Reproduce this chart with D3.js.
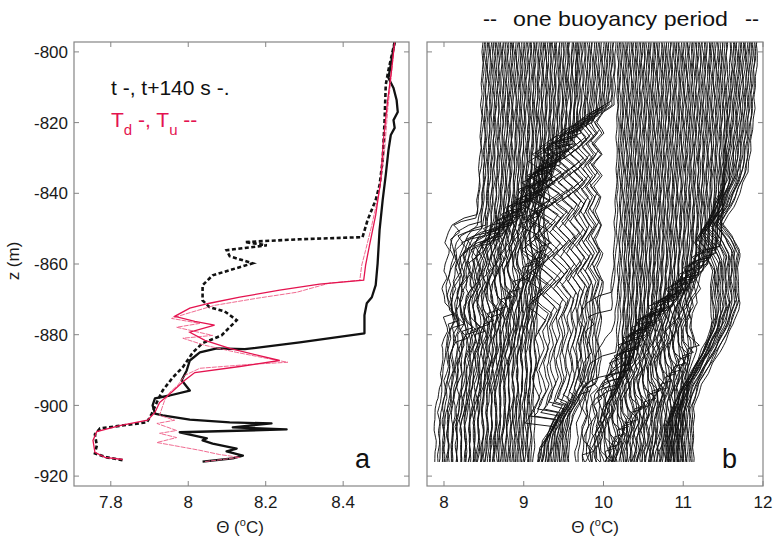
<!DOCTYPE html>
<html><head><meta charset="utf-8">
<script src="https://cdn.jsdelivr.net/npm/d3@7"></script>
<style>body{margin:0;background:#fff}svg{display:block}text{font-family:Arial,"Liberation Sans",sans-serif}</style>
</head><body><svg id="c" width="775" height="543"></svg>
<script>
// ---------- data ----------
const zTicks = [-800,-820,-840,-860,-880,-900,-920];
const xTicksA = [7.8,8,8.2,8.4];
const xTicksB = [8,9,10,11,12];

// panel a profiles (temperature, depth)
const solidT = [8.533,8.525,8.517,8.530,8.538,8.541,8.530,8.533,8.523,8.517,8.510,8.502,8.494,8.489,8.484,8.474,8.461,8.455,8.455,8.288,8.146,8.074,8.030,8.004,7.996,7.983,8.004,7.952,7.914,7.908,7.914,7.934,8.004,8.107,8.215,8.115,8.254,7.978,8.048,8.037,8.063,8.125,8.099,8.141,8.115,8.037];
const solidZ = [-797.2,-802.3,-807.4,-810.2,-813.6,-817.0,-819.3,-821.5,-823.5,-827.8,-834.8,-841.9,-850.4,-859.8,-866.0,-869.4,-871.1,-874.5,-879.6,-882.2,-884.1,-883.9,-885.0,-887.3,-890.1,-892.9,-895.8,-897.2,-898.0,-900.0,-902.3,-902.8,-904.0,-904.8,-905.1,-906.2,-906.8,-907.6,-909.3,-909.9,-910.8,-912.2,-913.0,-914.2,-915.0,-915.9];
const dashT = [8.533,8.517,8.510,8.507,8.502,8.494,8.484,8.463,8.450,8.288,8.146,8.203,8.099,8.107,8.166,8.063,8.037,8.037,8.055,8.094,8.125,8.086,8.037,8.012,7.986,7.960,7.934,7.921,7.906,7.893,7.772,7.759,7.764,7.759,7.790,7.836];
const dashZ = [-797.2,-805.1,-809.3,-819.3,-830.6,-837.7,-841.9,-847.6,-852.4,-853.0,-853.8,-854.7,-856.1,-857.8,-859.8,-863.2,-866.0,-870.3,-872.2,-873.4,-875.9,-880.2,-882.4,-885.0,-889.2,-892.1,-895.8,-898.6,-902.3,-904.8,-906.5,-908.2,-911.3,-913.6,-914.7,-915.6];
const tdT = [8.533,8.525,8.515,8.504,8.497,8.484,8.468,8.458,8.453,8.339,8.236,8.133,8.055,8.004,7.965,8.017,8.068,8.004,8.043,8.107,8.236,8.133,8.017,7.991,7.957,7.926,7.914,7.895,7.823,7.764,7.754,7.759,7.785,7.831];
const tdZ = [-797.2,-805.1,-813.6,-824.9,-836.3,-846.2,-854.7,-860.3,-864.6,-865.7,-867.4,-869.4,-871.1,-872.5,-874.8,-876.2,-877.3,-879.3,-881.6,-883.9,-887.3,-889.0,-890.7,-892.9,-896.3,-899.2,-902.0,-904.2,-905.7,-907.4,-909.9,-913.3,-914.7,-915.3];
const tuT = [8.533,8.523,8.515,8.507,8.494,8.474,8.458,8.448,8.443,8.365,8.280,8.177,8.068,7.991,7.957,8.030,7.970,8.063,7.986,8.043,8.125,8.203,8.257,8.159,8.030,7.991,7.973,7.952,7.939,7.932,7.926,7.965,7.919,7.970,7.926,7.970,7.919,7.960,8.030,8.081,8.133,8.043];
const tuZ = [-797.2,-808.0,-816.4,-827.8,-839.1,-849.0,-856.1,-860.3,-864.6,-865.4,-868.0,-869.7,-871.7,-874.2,-875.4,-876.8,-877.9,-880.2,-881.0,-883.0,-885.0,-886.7,-887.8,-888.4,-889.5,-891.5,-894.3,-896.3,-898.6,-900.8,-902.8,-904.2,-905.1,-907.1,-907.9,-909.1,-910.5,-911.3,-912.7,-913.9,-914.7,-915.9];

// panel b: profile shapes relative to the front (dz metres above(+)/below(-) front, dT in degC)
const shapeDz = [
 [130,60,30,10,3,0,-1,-3,-5,-8,-10,-13,-16,-18,-21,-25,-28,-29,-33,-37,-41,-45,-50,-56,-62,-70,-80,-100,-130],
 [130,40,15,5,0,-1,-2,-4,-6,-9,-12,-15,-19,-23,-26,-29,-33,-37,-42,-47,-52,-58,-65,-75,-130],
 [130,30,10,4,0,-2,-5,-8,-12,-15,-18,-22,-27,-30,-35,-40,-46,-52,-60,-70,-130],
 [130,10,0,-2,-5,-8,-11,-14,-17,-20,-23,-26,-30,-34,-38,-42,-46,-50,-55,-60,-66,-72,-78,-84,-88,-95,-130],
 [130,50,30,15,5,0,-4,-8,-15,-22,-28,-35,-45,-52,-130]
];
const shapeDT = [
 [0,-0.01,-0.03,-0.06,-0.08,-0.09,-0.25,-0.40,-0.45,-0.48,-0.44,-0.47,-0.50,-0.46,-0.52,-0.49,-0.36,-0.50,-0.46,-0.53,-0.50,-0.55,-0.52,-0.57,-0.55,-0.58,-0.56,-0.60,-0.60],
 [0,-0.02,-0.05,-0.09,-0.11,-0.30,-0.40,-0.33,-0.43,-0.40,-0.36,-0.45,-0.49,-0.47,-0.42,-0.40,-0.46,-0.50,-0.52,-0.55,-0.62,-0.64,-0.62,-0.66,-0.66],
 [0,-0.02,-0.05,-0.08,-0.12,-0.20,-0.28,-0.33,-0.38,-0.35,-0.42,-0.44,-0.40,-0.47,-0.49,-0.46,-0.52,-0.55,-0.53,-0.58,-0.60],
 [0,-0.03,-0.05,-0.22,-0.32,-0.22,-0.36,-0.24,-0.37,-0.25,-0.38,-0.26,-0.36,-0.24,-0.35,-0.23,-0.33,-0.22,-0.28,-0.25,-0.30,-0.26,-0.32,-0.45,-0.55,-0.60,-0.62],
 [0,0,-0.05,-0.12,-0.30,-0.45,-0.30,-0.22,-0.25,-0.22,-0.30,-0.45,-0.70,-0.80,-0.81]
];
// fine-scale temperature wiggles (degC, every 3 m)
const fineDT = [0.016,-0.010,0.027,0.005,-0.019,0.012,-0.028,0.022,0.003,-0.014,0.031,-0.008,-0.024,0.017,0.009,-0.030,0.023,-0.004,0.013,-0.020,0.028,-0.012,0.005,-0.026,0.019,0.001,-0.017,0.024,-0.009,0.014,-0.029,0.008,0.020,-0.015,0.004,-0.023,0.030,-0.006,0.011,-0.018,0.025,-0.013,0.006,-0.027,0.018];
// estimated front depth of each successive profile over one buoyancy period
const frontZ = [
 -846,-847,-849,-848,-850,-850,-849,-852,-850,-853,-851,-852,-850,-854,-852,-851,-853,-851,-850,-852,
 -850,-851,-848,-850,-849,-849,-847,-848,-848,
 -847,-845,-846,-844,-846,-844,-843,-844,-842,-843,-841,-842,-840,-841,
 -840,-839,-839,-837,-838,-836,-837,-835,-836,-834,-834,-832,-833,-832,
 -831,-832,-830,-830,-828,-829,-828,-826,-827,
 -826,-825,-826,-824,-824,-822,-823,-822,-820,-821,-820,-819,-820,
 -818,-819,-817,-818,-816,-817,-816,-815,-816,-815,-815,-814,-815,-815,
 -868,-873,-879,-885,-891,-896,-895,-894,-894,-892,-892,-891,
 -890,-890,-888,-888,-886,-886,-884,
 -884,-882,-883,-881,-881,-880,-879,-880,-878,-878,-876,-877,
 -876,-875,-876,-874,-875,-873,-874,-873,-872,-873,-871,-872,-870,-871,-870,-869,-870,-868,-869,-868,-867,-868,-866,
 -867,-865,-866,-865,-864,-864,-863,-863,-861,-862,-861,-860,-860,-859,-860,-858,-858,-857,-857,-856,
 -856,-855,-855,-854,-854,-853,-853,-852,-851,-852,-851,-850,-850,-850,
 -849,-850,-848,-849,-849,-848,-849,-848,-849
];
const holeFirst = 68;            // profiles with a weakening first step (white gap near 10 degC)
const holeStepScale = [2.10,2.00,1.90,1.82,1.74,1.66,1.58,1.50,1.44,1.38,1.32,1.26,1.21,1.16,1.12,1.08,1.04,1.00,0.97,0.93,0.90,0.86,0.83,0.80,0.78];
const lateProfiles = [170, 189]; // gradually cooling upper layer (right edge)

// ---------- drawing ----------
const svg = d3.select("#c");
const A = {l:74, r:409, t:42, b:486};
const B = {l:427, r:763, t:42, b:486};
const y = d3.scaleLinear().domain([-922.8,-797.2]).range([A.b, A.t]);
const xa = d3.scaleLinear().domain([7.705,8.57]).range([A.l, A.r]);
const xb = d3.scaleLinear().domain([7.787,12.0]).range([B.l, B.r]);
const frameCol = "#858585", txtCol = "#1a1a1a";

function frame(P, xs, xt, showY){
  const g = svg.append("g");
  g.append("rect").attr("x",P.l).attr("y",P.t).attr("width",P.r-P.l).attr("height",P.b-P.t)
   .attr("fill","none").attr("stroke",frameCol).attr("stroke-width",1.2);
  const tl = 5;
  xt.forEach(v=>{
    const X = xs(v);
    g.append("line").attr("x1",X).attr("x2",X).attr("y1",P.b).attr("y2",P.b-tl).attr("stroke",frameCol);
    g.append("line").attr("x1",X).attr("x2",X).attr("y1",P.t).attr("y2",P.t+tl).attr("stroke",frameCol);
    g.append("text").attr("x",X).attr("y",508).attr("text-anchor","middle").attr("font-size",17).attr("fill",txtCol).text(v);
  });
  zTicks.forEach(v=>{
    const Y = y(v);
    g.append("line").attr("x1",P.l).attr("x2",P.l+tl).attr("y1",Y).attr("y2",Y).attr("stroke",frameCol);
    g.append("line").attr("x1",P.r).attr("x2",P.r-tl).attr("y1",Y).attr("y2",Y).attr("stroke",frameCol);
    if(showY) g.append("text").attr("x",P.l-6).attr("y",Y).attr("dy","0.36em").attr("text-anchor","end").attr("font-size",17).attr("fill",txtCol).text(v);
  });
}

const defs = svg.append("defs");
defs.append("clipPath").attr("id","ca").append("rect").attr("x",A.l).attr("y",A.t).attr("width",A.r-A.l).attr("height",A.b-A.t);
defs.append("clipPath").attr("id","cb").append("rect").attr("x",B.l).attr("y",A.t).attr("width",B.r-B.l).attr("height",y(-916)-A.t);

// panel a
const zip = (T,Z)=>T.map((t,i)=>[t,Z[i]]);
const la = d3.line().x(d=>xa(d[0])).y(d=>y(d[1]));
const ga = svg.append("g").attr("clip-path","url(#ca)");
ga.append("path").attr("d",la(zip(dashT,dashZ))).attr("fill","none").attr("stroke","#111").attr("stroke-width",2.6).attr("stroke-dasharray","4,2.5");
ga.append("path").attr("d",la(zip(solidT,solidZ))).attr("fill","none").attr("stroke","#111").attr("stroke-width",2.3).attr("stroke-linejoin","round");
ga.append("path").attr("d",la(zip(tuT,tuZ))).attr("fill","none").attr("stroke","#ee5a85").attr("stroke-width",0.9).attr("stroke-dasharray","5,1");
ga.append("path").attr("d",la(zip(tdT,tdZ))).attr("fill","none").attr("stroke","#e4134f").attr("stroke-width",1.3);

// panel b waterfall: successive profiles, each shifted right by a fixed offset
const warmTop = 8.53, offset0 = -0.03, offsetStep = 3.43/(frontZ.length-1);
const gb = svg.append("g").attr("clip-path","url(#cb)");
const lb = d3.line().x(d=>xb(d[0])).y(d=>y(d[1]));
const depthGrid = d3.range(-797, -917, -1);
function shapeAt(k, dz){
  const D = shapeDz[k], T = shapeDT[k];
  for (let j=0;j<D.length-1;j++){
    if (dz <= D[j] && dz >= D[j+1]){ const f=(D[j]-dz)/(D[j]-D[j+1]); return T[j]+f*(T[j+1]-T[j]); }
  }
  return dz > D[0] ? T[0] : T[T.length-1];
}
function fineAt(z, ph){
  const n = fineDT.length, u = (-797 - z)/3 + ph, k = Math.floor(u), f = u-k;
  return 0.45*(fineDT[k%n]*(1-f) + fineDT[(k+1)%n]*f);
}
frontZ.forEach((zf,i)=>{
  let k = i % 3, sc = 1;
  const h = i - holeFirst;
  if (h >= 0 && h < holeStepScale.length){ k = 3; sc = holeStepScale[h]; }
  if (i>=lateProfiles[0] && i<=lateProfiles[1]) k = 4;
  const off = offset0 + i*offsetStep;
  const ph = i*2.3;
  const pts = depthGrid.map(z=>{
    const dz = z - zf;
    let s = shapeAt(k, dz);
    if (k === 3 && dz > -80) s *= sc;
    return [warmTop + off + s + fineAt(z, ph), z];
  });
  gb.append("path").attr("d",lb(pts)).attr("fill","none").attr("stroke","#111").attr("stroke-width",0.95);
});

frame(A, xa, xTicksA, true);
frame(B, xb, xTicksB, false);

// axis labels
function thetaLabel(cx){
  const t = svg.append("text").attr("x",cx).attr("y",533).attr("text-anchor","middle").attr("font-size",17).attr("fill",txtCol);
  t.append("tspan").text("Θ (");
  t.append("tspan").attr("font-size",11).attr("dy",-7).text("o");
  t.append("tspan").attr("dy",7).text("C)");
}
thetaLabel(240); thetaLabel(595);
svg.append("text").attr("transform","translate(19,261) rotate(-90)").attr("text-anchor","middle").attr("font-size",17).attr("fill",txtCol).text("z (m)");

// legend
svg.append("text").attr("x",111).attr("y",95).attr("font-size",21).attr("fill","#111").text("t -, t+140 s -.");
const lt = svg.append("text").attr("x",111).attr("y",127).attr("font-size",21).attr("fill","#e4134f");
lt.append("tspan").text("T");
lt.append("tspan").attr("font-size",15).attr("dy",8).text("d");
lt.append("tspan").attr("dy",-8).text(" -, T");
lt.append("tspan").attr("font-size",15).attr("dy",8).text("u");
lt.append("tspan").attr("dy",-8).text(" --");

// panel letters
svg.append("text").attr("x",355).attr("y",468).attr("font-size",27).attr("fill","#111").text("a");
svg.append("text").attr("x",722).attr("y",468).attr("font-size",27).attr("fill","#111").text("b");

// title
svg.append("text").attr("x",483).attr("y",26).attr("font-size",21).attr("fill","#111").text("--");
svg.append("text").attr("x",513).attr("y",26).attr("font-size",21).attr("fill","#111").attr("textLength",215).attr("lengthAdjust","spacingAndGlyphs").text("one buoyancy period");
svg.append("text").attr("x",745).attr("y",26).attr("font-size",21).attr("fill","#111").text("--");
</script></body></html>
